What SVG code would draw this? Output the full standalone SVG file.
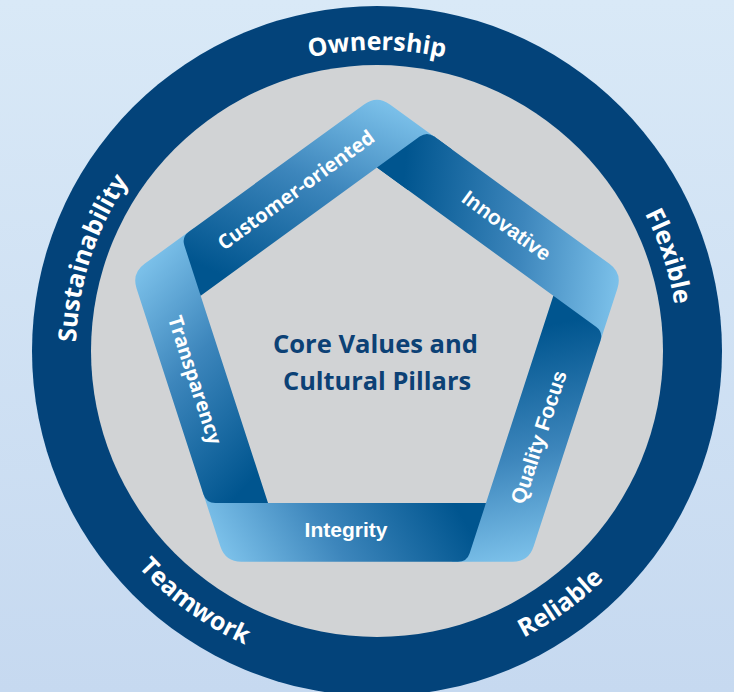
<svg xmlns="http://www.w3.org/2000/svg" xmlns:xlink="http://www.w3.org/1999/xlink" width="734" height="692" viewBox="0 0 734 692">
<style>
.ring-label{font-family:"Open Sans","Liberation Sans",sans-serif;font-weight:700;font-size:25px;fill:#ffffff;text-anchor:middle}
.band-label{font-family:"Liberation Sans",Arial,sans-serif;font-weight:700;font-size:21px;fill:#ffffff;text-anchor:middle}
.band-label-g{font-family:"Open Sans","Liberation Sans",sans-serif;font-weight:700;font-size:20px;fill:#ffffff;text-anchor:middle}
.core{font-family:"Open Sans","Liberation Sans",sans-serif;font-weight:700;font-size:24.5px;fill:#0c4175;text-anchor:middle}
.ribbon{fill:url(#ribbonGrad)}
</style>
<defs>
<linearGradient id="bgGrad" x1="0" y1="0" x2="0" y2="1">
<stop offset="0" stop-color="#d9e9f7"/>
<stop offset="1" stop-color="#c6d9f0"/>
</linearGradient>
<linearGradient id="ribbonGrad" gradientUnits="userSpaceOnUse" x1="417.7" y1="43.9" x2="641.5" y2="67.4">
<stop offset="0" stop-color="#00558f"/>
<stop offset="0.55" stop-color="#3d86bc"/>
<stop offset="1" stop-color="#7cc1ea"/>
</linearGradient>
<path id="band" class="ribbon" d="M419.68,136.59 Q426.96,131.30 434.24,136.59 L609.43,263.87 Q622.37,273.27 617.43,288.49 L598.60,346.42 L553.33,295.71 L377,167.6 Z"/>
<clipPath id="foldClip"><rect x="360" y="110" width="92" height="80"/></clipPath>
<path id="arcOwnership" d="M116.3,200.5 A301,301 0 0 1 637.7,200.5"/>
<path id="arcFlexible" d="M439.6,56.6 A301,301 0 0 1 600.7,552.4"/>
<path id="arcSustainability" d="M153.3,552.4 A301,301 0 0 1 314.4,56.6"/>
<path id="arcTeamwork" d="M56.8,317.3 A322,322 0 0 0 508.0,645.2"/>
<path id="arcReliable" d="M246,645.2 A322,322 0 0 0 697.2,317.3"/>
</defs>

<rect x="0" y="0" width="734" height="692" fill="url(#bgGrad)"/>

<g id="outer-ring">
<circle cx="377" cy="351" r="345" fill="#03437a"/>
<circle cx="377" cy="351" r="286" fill="#d1d3d5"/>
</g>

<g id="ring-ownership"><text class="ring-label"><textPath xlink:href="#arcOwnership" href="#arcOwnership" startOffset="50%">Ownership</textPath></text></g>
<g id="ring-flexible"><text class="ring-label"><textPath xlink:href="#arcFlexible" href="#arcFlexible" startOffset="50%">Flexible</textPath></text></g>
<g id="ring-reliable"><text class="ring-label"><textPath xlink:href="#arcReliable" href="#arcReliable" startOffset="50%">Reliable</textPath></text></g>
<g id="ring-teamwork"><text class="ring-label"><textPath xlink:href="#arcTeamwork" href="#arcTeamwork" startOffset="50%">Teamwork</textPath></text></g>
<g id="ring-sustainability"><text class="ring-label"><textPath xlink:href="#arcSustainability" href="#arcSustainability" startOffset="50%">Sustainability</textPath></text></g>

<g id="pillar-innovative">
<use xlink:href="#band" href="#band"/>
<text class="band-label" transform="translate(506.8,225.4) rotate(36)" y="7.5">Innovative</text>
</g>
<g id="pillar-quality-focus">
<use xlink:href="#band" href="#band" transform="rotate(72 377 353)"/>
<text class="band-label" transform="translate(538.4,437.0) rotate(-72)" y="7.5">Quality Focus</text>
</g>
<g id="pillar-integrity">
<use xlink:href="#band" href="#band" transform="rotate(144 377 353)"/>
<text class="band-label" transform="translate(346,529.5)" y="7.5">Integrity</text>
</g>
<g id="pillar-transparency">
<use xlink:href="#band" href="#band" transform="rotate(216 377 353)"/>
<text class="band-label-g" transform="translate(195,380) rotate(72)" y="7" textLength="134" lengthAdjust="spacingAndGlyphs">Transparency</text>
</g>
<g id="pillar-customer-oriented">
<use xlink:href="#band" href="#band" transform="rotate(288 377 353)"/>
<text class="band-label-g" transform="translate(296,190) rotate(-36)" y="7" textLength="188" lengthAdjust="spacingAndGlyphs">Customer-oriented</text>
</g>
<g id="fold-innovative-start">
<use xlink:href="#band" href="#band" clip-path="url(#foldClip)"/>
</g>

<g id="core">
<text class="core" x="375.5" y="353" textLength="205" lengthAdjust="spacingAndGlyphs">Core Values and</text>
<text class="core" x="377" y="390" textLength="188" lengthAdjust="spacingAndGlyphs">Cultural Pillars</text>
</g>
</svg>
